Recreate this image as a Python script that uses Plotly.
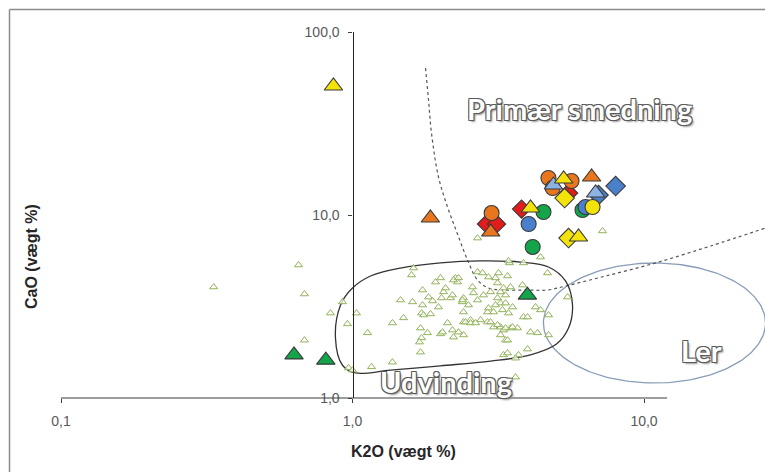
import numpy as np
import plotly.graph_objects as go

# ---------------- data (K2O and CaO in weight %) ----------------
# Reference population (small open triangles)
ref_k2o = [0.334, 0.653, 0.684, 0.684, 0.840, 0.924, 0.961, 1.032, 1.126, 0.969,
           1.000, 1.162, 1.371, 1.371, 1.461, 1.496, 1.619, 1.594, 1.607, 1.739,
           1.739, 1.725, 1.752, 1.852, 1.823, 1.882, 1.927, 2.004, 1.972, 2.020,
           2.052, 2.085, 2.256, 2.292, 2.169, 2.203, 2.118, 2.203, 2.221, 1.711,
           1.808, 1.725, 1.697, 2.004, 2.036, 1.711, 3.456, 3.860, 4.667, 2.685,
           2.793, 2.928, 3.169, 3.402, 3.830, 3.144, 3.296, 3.483, 2.975, 2.815,
           2.580, 2.601, 2.221, 2.403, 2.384, 2.685, 3.144, 3.219, 3.349, 3.539,
           4.245, 4.415, 5.465, 4.704, 3.860, 3.984, 2.905, 3.046, 2.749, 2.905,
           2.403, 2.403, 2.540, 3.046, 3.219, 3.296, 3.483, 3.681, 4.080, 4.312,
           4.704, 3.219, 3.349, 3.984, 3.296, 3.402, 3.710, 3.624, 2.403, 2.685,
           4.415, 3.429, 3.624, 2.500, 2.441, 2.540, 2.642, 2.975, 3.144, 3.349,
           3.539, 2.310, 3.402, 2.310, 2.384, 7.207, 3.095, 3.219, 3.349, 3.095,
           2.928, 3.270, 3.429]
ref_cao = [4.04, 5.33, 3.70, 2.07, 2.91, 3.35, 2.54, 2.91, 2.27, 1.46,
           1.42, 1.48, 2.57, 1.57, 3.43, 2.74, 5.13, 4.70, 3.35, 3.89,
           3.22, 2.91, 2.84, 2.88, 3.56, 3.39, 4.30, 4.53, 3.14, 3.52,
           3.80, 3.99, 4.53, 4.30, 3.52, 3.65, 2.57, 2.35, 2.15, 2.41,
           2.27, 2.13, 2.02, 2.24, 2.29, 1.78, 5.47, 5.47, 4.82, 4.88,
           4.82, 4.58, 4.82, 4.64, 4.14, 4.25, 3.99, 4.04, 3.80, 3.65,
           4.04, 3.75, 4.41, 3.52, 3.35, 3.43, 3.52, 3.30, 3.65, 3.14,
           3.14, 3.03, 3.56, 2.84, 2.77, 2.77, 2.95, 2.95, 2.67, 2.60,
           2.95, 2.60, 2.67, 2.44, 2.44, 2.35, 2.41, 2.41, 2.29, 2.27,
           2.21, 2.21, 2.07, 1.85, 1.72, 1.76, 1.72, 1.65, 2.21, 7.48,
           5.89, 5.61, 1.30, 3.22, 2.60, 2.57, 2.57, 2.60, 2.51, 2.41,
           2.44, 2.29, 2.07, 4.53, 3.43, 8.18, 4.53, 3.80, 3.30, 3.22,
           3.10, 3.03, 2.91]

# Slag samples, grouped by symbol
red_dia_k2o = [2.88, 3.12, 3.80, 5.51]
red_dia_cao = [8.93, 8.93, 10.78, 13.19]
orange_circ_k2o = [3.00, 4.70, 5.64, 4.86]
orange_circ_cao = [10.25, 15.93, 15.34, 14.05]
orange_tri_k2o = [1.85, 2.98, 6.61]
orange_tri_cao = [9.63, 8.07, 16.13]
green_circ_k2o = [4.52, 4.15, 6.15]
green_circ_cao = [10.38, 6.69, 10.65]
blue_circ_k2o = [4.02, 6.30]
blue_circ_cao = [8.93, 11.06]
blue_dia_k2o = [7.99, 6.98]
blue_dia_cao = [14.40, 12.86]
blue_tri_k2o = [4.89, 6.82]
blue_tri_cao = [14.58, 13.19]
yellow_dia_k2o = [5.34, 5.51]
yellow_dia_cao = [12.38, 7.48]
yellow_circ_k2o = [6.66]
yellow_circ_cao = [11.06]
yellow_tri_k2o = [0.86, 4.08, 5.30, 5.96]
yellow_tri_cao = [50.7, 10.92, 15.73, 7.58]
green_tri_k2o = [0.63, 0.81, 3.98]
green_tri_cao = [1.72, 1.61, 3.65]

# Field outlines
udv_k2o = [0.874, 0.910, 1.000, 1.153, 1.461, 2.004, 2.749, 3.770, 4.704, 5.379,
           5.684, 5.508, 5.010, 4.080, 2.975, 2.004, 1.350, 1.024, 0.924, 0.874]
udv_cao = [2.13, 3.22, 3.99, 4.64, 5.13, 5.47, 5.61, 5.53, 5.20, 4.36,
           3.22, 2.41, 1.97, 1.72, 1.59, 1.50, 1.42, 1.37, 1.51, 2.13]
bound_k2o = [1.780, 1.823, 1.866, 1.972, 2.118, 2.292, 2.480, 2.685, 2.928, 3.296,
             3.984, 4.667, 5.379, 7.380, 10.95, 16.91, 26.1]
bound_cao = [63.6, 42.5, 28.05, 16.13, 11.06, 7.87, 5.68, 4.41, 3.99, 3.89,
             3.89, 3.89, 4.09, 4.64, 5.47, 6.77, 8.49]
# Clay field: ellipse in log-log space (centre and half-axes in decades)
ler_centre = (10.86, 2.57)
ler_halfaxes = (0.381, 0.328)

x_tick_vals = [0.1, 1, 10]
y_tick_vals = [1, 10, 100]

# ---------------- figure ----------------
XMIN, XMAX = -1.0, 1.415          # log10 range of K2O axis
YMIN, YMAX = 0.0, 2.0             # log10 range of CaO axis
X_END = 12.0                      # where the drawn K2O axis line stops

fig = go.Figure()

ORANGE = "#E8761E"
RED = "#E21B1B"
YELLOW = "#F3E30A"
BLUE = "#4A7FCC"
LIGHTBLUE = "#8DB3E2"
GREEN = "#13A54A"
EDGE = "#3A3A3A"

# clay ellipse
t = np.linspace(0, 2 * np.pi, 200)
ell_x = 10 ** (np.log10(ler_centre[0]) + ler_halfaxes[0] * np.cos(t))
ell_y = 10 ** (np.log10(ler_centre[1]) + ler_halfaxes[1] * np.sin(t))
fig.add_trace(go.Scatter(x=ell_x, y=ell_y, mode="lines",
                         line=dict(color="#8A9DB8", width=1.3), hoverinfo="skip"))

# smelting boundary
fig.add_trace(go.Scatter(x=bound_k2o, y=bound_cao, mode="lines",
                         line=dict(color="#555555", width=1.2, dash="dot", shape="spline"),
                         hoverinfo="skip"))

# extraction field
fig.add_trace(go.Scatter(x=udv_k2o, y=udv_cao, mode="lines",
                         line=dict(color="#333333", width=1.3, shape="spline", smoothing=1.0),
                         hoverinfo="skip"))

# reference population
fig.add_trace(go.Scatter(x=ref_k2o, y=ref_cao, mode="markers",
                         marker=dict(symbol="triangle-up", size=7, color="rgba(255,255,255,0.7)",
                                     line=dict(color="#92B35A", width=1))))


def add_group(xs, ys, symbol, color, size):
    fig.add_trace(go.Scatter(x=xs, y=ys, mode="markers", cliponaxis=False,
                             marker=dict(symbol=symbol, size=size, color=color,
                                         line=dict(color=EDGE, width=1.1))))


add_group(red_dia_k2o, red_dia_cao, "diamond", RED, 14)
add_group(orange_circ_k2o, orange_circ_cao, "circle", ORANGE, 15)
add_group(orange_tri_k2o, orange_tri_cao, "triangle-up", ORANGE, 16)
add_group(green_circ_k2o, green_circ_cao, "circle", GREEN, 15)
add_group(blue_circ_k2o, blue_circ_cao, "circle", BLUE, 15)
add_group(blue_dia_k2o, blue_dia_cao, "diamond", BLUE, 15)
add_group(blue_tri_k2o, blue_tri_cao, "triangle-up", LIGHTBLUE, 16)
add_group(yellow_dia_k2o, yellow_dia_cao, "diamond", YELLOW, 15)
add_group(yellow_circ_k2o, yellow_circ_cao, "circle", YELLOW, 15)
add_group(yellow_tri_k2o, yellow_tri_cao, "triangle-up", YELLOW, 16)
add_group(green_tri_k2o, green_tri_cao, "triangle-up", GREEN, 16)

TICKFONT = dict(family="Liberation Sans, Arial, sans-serif", size=14, color="#595959")
AXCOL = "#3C3C3C"

fig.update_layout(
    width=765, height=472,
    margin=dict(l=61, r=0, t=32, b=74),
    paper_bgcolor="white", plot_bgcolor="rgba(0,0,0,0)",
    separators=",.",
    showlegend=False,
    xaxis=dict(type="log", range=[XMIN, XMAX], showgrid=False, zeroline=False,
               showline=False, tickvals=x_tick_vals, tickformat=".1f",
               ticks="outside", ticklen=4, tickcolor=AXCOL, tickfont=TICKFONT,
               ticklabelstandoff=6),
    yaxis=dict(type="log", range=[YMIN, YMAX], showgrid=False, zeroline=False,
               showline=True, linecolor="#222222", linewidth=1.2,
               anchor="free", position=(0 - XMIN) / (XMAX - XMIN),
               tickvals=y_tick_vals, tickformat=".1f",
               ticks="outside", ticklen=4, tickcolor=AXCOL, tickfont=TICKFONT,
               ticklabelstandoff=6),
)

# K2O axis line stops at X_END
x_end_frac = (np.log10(X_END) - XMIN) / (XMAX - XMIN)
fig.add_shape(type="line", xref="paper", yref="paper", x0=0, x1=x_end_frac, y0=0, y1=0,
              line=dict(color=AXCOL, width=1.2))

# chart frame (top and left edges)
fr_top = 1 + 22.5 / 366
fr_left = -51.5 / 704
fig.add_shape(type="line", xref="paper", yref="paper", x0=fr_left, x1=1.0, y0=fr_top, y1=fr_top,
              line=dict(color="#8C8C8C", width=1.5))
fig.add_shape(type="line", xref="paper", yref="paper", x0=fr_left, x1=fr_left, y0=fr_top, y1=-0.21,
              line=dict(color="#8C8C8C", width=1.5))

TITLEFONT = dict(family="Liberation Sans, Arial, sans-serif", size=16, color="#262626", weight="bold")
fig.add_annotation(text="K2O (vægt %)", xref="paper", yref="paper", x=0.4858, y=-0.145,
                   showarrow=False, font=TITLEFONT, xanchor="center", yanchor="middle")
fig.add_annotation(text="CaO (vægt %)", xref="paper", yref="paper", x=-0.0412, y=0.388,
                   showarrow=False, font=TITLEFONT, textangle=-90,
                   xanchor="center", yanchor="middle")

OUTLINE = ("-1px -1px 0 #5a5a5a, 1px -1px 0 #5a5a5a, -1px 1px 0 #5a5a5a, "
           "1px 1px 0 #5a5a5a, 2px 2px 2px #9a9a9a")
FIELDFONT = dict(family="Lato, sans-serif", size=29, color="white", weight="bold", shadow=OUTLINE)
for label, fx, fy in [("Primær smedning", 0.7358, 0.7923),
                      ("Udvinding", 0.5469, 0.0464),
                      ("Ler", 0.9105, 0.1311)]:
    fig.add_annotation(text=label, xref="paper", yref="paper", x=fx, y=fy,
                       xanchor="center", yanchor="middle",
                       showarrow=False, font=FIELDFONT)

fig.write_html("out.html")
